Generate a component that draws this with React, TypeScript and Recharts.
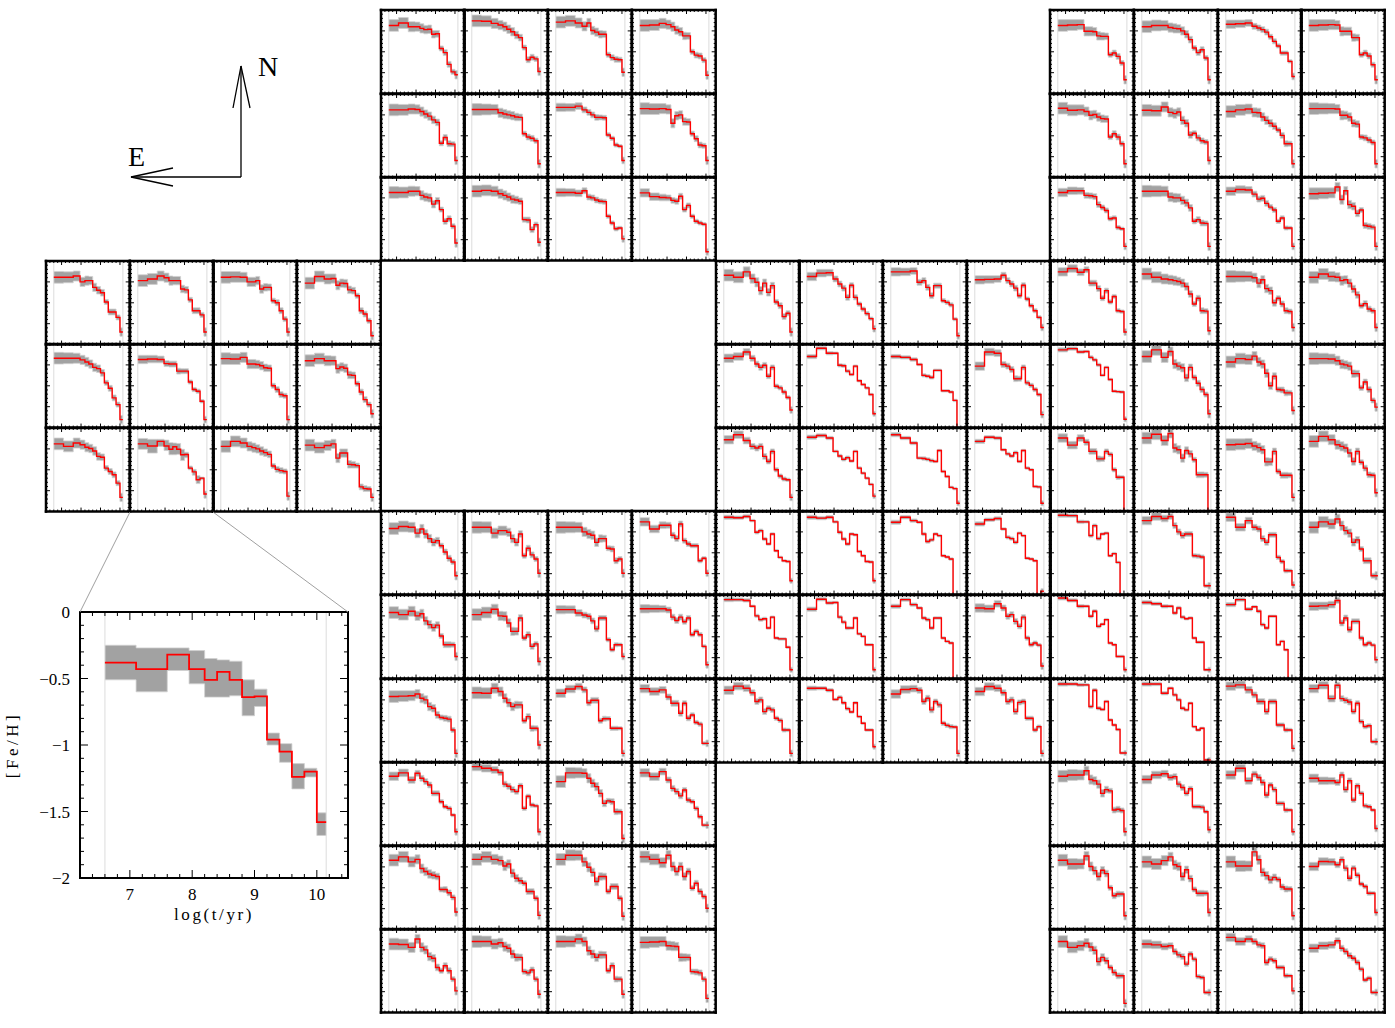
import React from "react";
import { Area, ComposedChart, Line, ReferenceLine, XAxis, YAxis } from "recharts";

// log(t/yr) bin edges shared by every panel
const AGE_EDGES = [6.6, 7.1, 7.6, 7.95, 8.2, 8.4, 8.6, 8.8, 9.0, 9.2, 9.4, 9.6, 9.8, 10.0, 10.15];

const X_TICKS = [6.4, 6.6, 6.8, 7, 7.2, 7.4, 7.6, 7.8, 8, 8.2, 8.4, 8.6, 8.8, 9, 9.2, 9.4, 9.6, 9.8, 10, 10.2, 10.4];
const Y_TICKS = [-1.9, -1.8, -1.7, -1.6, -1.5, -1.4, -1.3, -1.2, -1.1, -1, -0.9, -0.8, -0.7, -0.6, -0.5, -0.4, -0.3, -0.2, -0.1];
const X_TICK_LABELS = [7, 8, 9, 10];
const Y_TICK_LABELS = [0, -0.5, -1, -1.5, -2];

// the enlarged panel (left block, bottom row, second column)
const INSET_FE = [-0.38, -0.43, -0.32, -0.43, -0.51, -0.45, -0.51, -0.64, -0.635, -0.96, -1.05, -1.24, -1.2, -1.58];
const INSET_LO = [-0.51, -0.6, -0.44, -0.54, -0.64, -0.64, -0.63, -0.78, -0.71, -1.0, -1.13, -1.33, -1.24, -1.68];
const INSET_HI = [-0.25, -0.27, -0.27, -0.29, -0.35, -0.36, -0.37, -0.51, -0.58, -0.91, -0.99, -1.14, -1.175, -1.51];

// half widths of the grey bands, per bin
const ERR_WIDE = [0.14, 0.13, 0.12, 0.11, 0.11, 0.1, 0.1, 0.09, 0.08, 0.06, 0.07, 0.07, 0.06, 0.1];
const ERR_MID = [0.1, 0.09, 0.08, 0.07, 0.07, 0.07, 0.07, 0.06, 0.06, 0.05, 0.05, 0.05, 0.04, 0.08];
const ERR_THIN = [0.05, 0.04, 0.04, 0.03, 0.04, 0.04, 0.04, 0.03, 0.03, 0.03, 0.03, 0.03, 0.03, 0.06];

// [Fe/H] per bin, block by block, row by row
const FE_PROFILES = [
  // top middle
  [-0.37, -0.31, -0.4, -0.4, -0.44, -0.47, -0.46, -0.58, -0.57, -0.92, -1.02, -1.3, -1.48, -1.55],
  [-0.26, -0.27, -0.32, -0.36, -0.4, -0.46, -0.52, -0.6, -0.66, -0.9, -1.19, -1.13, -1.17, -1.47],
  [-0.29, -0.26, -0.31, -0.39, -0.31, -0.49, -0.53, -0.58, -0.58, -1.07, -1.14, -1.18, -1.19, -1.49],
  [-0.37, -0.36, -0.32, -0.35, -0.4, -0.48, -0.52, -0.62, -0.62, -1.0, -1.08, -1.1, -1.2, -1.56],
  [-0.38, -0.38, -0.36, -0.37, -0.42, -0.48, -0.53, -0.62, -0.68, -1.18, -1.04, -1.19, -1.2, -1.59],
  [-0.37, -0.37, -0.37, -0.45, -0.48, -0.5, -0.52, -0.55, -0.56, -0.95, -1.03, -1.06, -1.12, -1.67],
  [-0.32, -0.32, -0.29, -0.38, -0.44, -0.5, -0.56, -0.56, -0.57, -0.98, -1.06, -1.22, -1.25, -1.59],
  [-0.35, -0.36, -0.35, -0.37, -0.7, -0.52, -0.5, -0.66, -0.67, -0.95, -1.07, -1.22, -1.24, -1.59],
  [-0.37, -0.37, -0.34, -0.34, -0.44, -0.48, -0.5, -0.65, -0.57, -0.78, -1.06, -1.0, -1.18, -1.58],
  [-0.34, -0.32, -0.34, -0.4, -0.44, -0.48, -0.53, -0.55, -0.58, -1.02, -1.03, -1.26, -1.14, -1.56],
  [-0.37, -0.37, -0.39, -0.33, -0.48, -0.5, -0.55, -0.58, -0.59, -0.94, -1.1, -1.24, -1.22, -1.48],
  [-0.38, -0.47, -0.49, -0.5, -0.56, -0.58, -0.46, -0.78, -0.68, -0.94, -1.06, -1.1, -1.13, -1.79],
  // top right
  [-0.37, -0.36, -0.35, -0.51, -0.51, -0.52, -0.62, -0.63, -0.63, -1.07, -1.03, -1.11, -1.27, -1.67],
  [-0.4, -0.37, -0.37, -0.42, -0.44, -0.45, -0.5, -0.58, -0.71, -0.91, -1.02, -0.95, -1.15, -1.67],
  [-0.34, -0.33, -0.31, -0.39, -0.43, -0.47, -0.53, -0.64, -0.75, -0.86, -1.03, -1.03, -1.23, -1.59],
  [-0.37, -0.36, -0.35, -0.36, -0.51, -0.51, -0.51, -0.66, -0.66, -1.07, -1.03, -1.1, -1.31, -1.67],
  [-0.34, -0.39, -0.38, -0.42, -0.51, -0.49, -0.55, -0.59, -0.6, -1.03, -0.95, -1.03, -1.19, -1.67],
  [-0.39, -0.4, -0.31, -0.44, -0.47, -0.43, -0.63, -0.7, -0.98, -0.94, -1.05, -1.12, -1.15, -1.59],
  [-0.42, -0.38, -0.36, -0.44, -0.45, -0.55, -0.63, -0.7, -0.77, -0.86, -0.99, -1.19, -1.19, -1.67],
  [-0.35, -0.35, -0.35, -0.36, -0.51, -0.51, -0.55, -0.7, -0.72, -1.03, -1.05, -1.1, -1.16, -1.67],
  [-0.37, -0.33, -0.33, -0.44, -0.45, -0.47, -0.66, -0.73, -0.8, -1.0, -0.98, -1.21, -1.24, -1.66],
  [-0.34, -0.34, -0.34, -0.48, -0.5, -0.5, -0.56, -0.62, -0.74, -1.06, -1.02, -1.1, -1.11, -1.66],
  [-0.34, -0.3, -0.31, -0.41, -0.53, -0.51, -0.63, -0.72, -0.79, -1.06, -0.98, -1.22, -1.22, -1.66],
  [-0.4, -0.39, -0.38, -0.24, -0.54, -0.33, -0.66, -0.7, -0.87, -0.79, -1.16, -1.18, -1.2, -1.66],
  // left
  [-0.39, -0.39, -0.36, -0.5, -0.47, -0.47, -0.63, -0.7, -0.76, -0.98, -1.22, -1.22, -1.35, -1.7],
  [-0.47, -0.43, -0.36, -0.4, -0.47, -0.47, -0.47, -0.67, -0.69, -0.93, -1.19, -1.19, -1.29, -1.7],
  [-0.39, -0.38, -0.39, -0.5, -0.5, -0.47, -0.67, -0.63, -0.63, -0.95, -1.0, -1.19, -1.39, -1.7],
  [-0.53, -0.37, -0.43, -0.42, -0.58, -0.53, -0.54, -0.69, -0.71, -0.83, -1.19, -1.27, -1.43, -1.79],
  [-0.34, -0.34, -0.34, -0.38, -0.43, -0.48, -0.56, -0.59, -0.69, -0.93, -1.06, -1.29, -1.45, -1.81],
  [-0.37, -0.36, -0.37, -0.47, -0.48, -0.48, -0.65, -0.65, -0.65, -0.91, -1.09, -1.13, -1.37, -1.81],
  [-0.35, -0.36, -0.32, -0.48, -0.48, -0.49, -0.52, -0.57, -0.58, -1.0, -1.09, -1.21, -1.24, -1.81],
  [-0.4, -0.35, -0.4, -0.4, -0.59, -0.55, -0.58, -0.74, -0.75, -0.95, -1.15, -1.33, -1.45, -1.67],
  [-0.38, -0.44, -0.36, -0.4, -0.46, -0.49, -0.55, -0.68, -0.7, -0.96, -1.04, -1.12, -1.32, -1.66],
  INSET_FE,
  [-0.44, -0.32, -0.36, -0.44, -0.47, -0.5, -0.55, -0.59, -0.63, -0.91, -0.99, -1.02, -1.04, -1.63],
  [-0.41, -0.47, -0.42, -0.38, -0.72, -0.6, -0.6, -0.87, -0.88, -0.9, -1.41, -1.45, -1.46, -1.66],
  // middle right, first block
  [-0.34, -0.39, -0.26, -0.42, -0.51, -0.71, -0.53, -0.75, -0.59, -0.98, -1.07, -1.33, -1.25, -1.7],
  [-0.37, -0.29, -0.28, -0.43, -0.55, -0.65, -0.87, -0.58, -0.87, -1.03, -1.15, -1.26, -1.38, -1.62],
  [-0.26, -0.26, -0.24, -0.51, -0.47, -0.63, -0.83, -0.59, -0.59, -0.95, -0.99, -1.05, -1.39, -1.79],
  [-0.45, -0.44, -0.43, -0.34, -0.47, -0.55, -0.65, -0.83, -0.58, -0.91, -1.07, -1.19, -1.35, -1.59],
  [-0.34, -0.3, -0.19, -0.34, -0.48, -0.56, -0.51, -0.77, -0.56, -1.01, -1.05, -1.15, -1.28, -1.58],
  [-0.3, -0.1, -0.22, -0.22, -0.51, -0.52, -0.65, -0.73, -0.53, -0.88, -0.97, -1.05, -1.21, -1.67],
  [-0.3, -0.32, -0.37, -0.49, -0.75, -0.77, -0.8, -0.63, -0.63, -1.12, -1.12, -1.15, -1.35, -2.05],
  [-0.53, -0.19, -0.22, -0.49, -0.53, -0.61, -0.83, -0.83, -0.56, -0.93, -0.99, -1.09, -1.21, -1.69],
  [-0.28, -0.16, -0.3, -0.44, -0.48, -0.44, -0.68, -0.8, -0.56, -1.0, -1.15, -1.22, -1.24, -1.66],
  [-0.22, -0.18, -0.24, -0.56, -0.67, -0.75, -0.71, -0.79, -0.56, -0.96, -1.08, -1.2, -1.35, -1.63],
  [-0.16, -0.24, -0.36, -0.72, -0.73, -0.75, -0.78, -0.8, -0.54, -1.04, -1.16, -1.42, -1.45, -1.8],
  [-0.32, -0.22, -0.24, -0.52, -0.62, -0.67, -0.59, -0.8, -0.54, -0.96, -1.0, -1.4, -1.41, -1.8],
  // middle right, second block
  [-0.26, -0.18, -0.27, -0.21, -0.53, -0.53, -0.66, -0.89, -0.71, -0.98, -0.85, -1.19, -1.21, -1.7],
  [-0.31, -0.39, -0.43, -0.45, -0.47, -0.49, -0.53, -0.61, -0.79, -1.03, -0.89, -1.19, -1.2, -1.67],
  [-0.37, -0.37, -0.37, -0.4, -0.53, -0.45, -0.66, -0.71, -1.0, -0.89, -1.03, -1.19, -1.21, -1.59],
  [-0.39, -0.31, -0.37, -0.39, -0.47, -0.45, -0.53, -0.67, -0.81, -1.07, -1.02, -1.15, -1.19, -1.59],
  [-0.14, -0.11, -0.19, -0.18, -0.32, -0.38, -0.5, -0.75, -0.56, -0.85, -1.13, -1.14, -1.15, -1.8],
  [-0.3, -0.14, -0.32, -0.18, -0.48, -0.53, -0.57, -0.81, -0.56, -0.8, -0.94, -1.09, -1.21, -1.67],
  [-0.43, -0.35, -0.37, -0.29, -0.43, -0.48, -0.7, -1.0, -0.77, -1.09, -1.1, -1.17, -1.17, -1.59],
  [-0.35, -0.35, -0.36, -0.4, -0.48, -0.5, -0.53, -0.71, -0.71, -1.05, -0.91, -1.09, -1.35, -1.51],
  [-0.24, -0.41, -0.24, -0.34, -0.56, -0.56, -0.74, -0.74, -0.56, -0.63, -1.0, -1.18, -1.18, -2.05],
  [-0.24, -0.15, -0.3, -0.13, -0.48, -0.52, -0.72, -0.54, -0.62, -0.76, -1.12, -1.12, -1.12, -2.05],
  [-0.4, -0.39, -0.37, -0.43, -0.47, -0.52, -0.81, -0.81, -0.56, -1.04, -1.13, -1.13, -1.13, -1.66],
  [-0.32, -0.2, -0.28, -0.4, -0.44, -0.48, -0.6, -0.8, -0.56, -0.82, -0.96, -1.12, -1.13, -1.55],
  // lower middle, first block
  [-0.42, -0.37, -0.39, -0.53, -0.43, -0.55, -0.66, -0.75, -0.71, -0.83, -0.98, -1.13, -1.22, -1.55],
  [-0.39, -0.39, -0.53, -0.47, -0.47, -0.51, -0.66, -0.75, -0.55, -1.07, -0.89, -1.05, -1.15, -1.49],
  [-0.39, -0.39, -0.39, -0.5, -0.55, -0.58, -0.75, -0.66, -0.66, -0.89, -0.91, -1.19, -1.15, -1.49],
  [-0.26, -0.43, -0.34, -0.34, -0.58, -0.66, -0.31, -0.71, -0.79, -0.83, -0.83, -1.19, -1.13, -1.49],
  [-0.42, -0.47, -0.39, -0.5, -0.45, -0.62, -0.71, -0.78, -0.72, -0.98, -1.19, -1.19, -1.19, -1.47],
  [-0.47, -0.42, -0.34, -0.5, -0.51, -0.67, -0.87, -0.87, -0.55, -1.03, -0.95, -1.23, -1.17, -1.59],
  [-0.35, -0.35, -0.43, -0.48, -0.51, -0.62, -0.81, -0.55, -0.55, -1.07, -1.31, -1.19, -1.19, -1.47],
  [-0.33, -0.33, -0.33, -0.36, -0.53, -0.61, -0.53, -0.64, -0.55, -0.95, -0.87, -0.95, -1.23, -1.67],
  [-0.42, -0.41, -0.4, -0.36, -0.46, -0.5, -0.66, -0.7, -0.86, -0.92, -0.94, -0.96, -1.22, -1.78],
  [-0.33, -0.34, -0.22, -0.3, -0.46, -0.57, -0.66, -0.62, -0.62, -1.0, -0.9, -1.18, -1.18, -1.58],
  [-0.34, -0.24, -0.18, -0.26, -0.57, -0.51, -0.51, -1.0, -0.95, -0.95, -1.18, -1.18, -1.18, -1.78],
  [-0.23, -0.3, -0.26, -0.43, -0.58, -0.58, -0.82, -0.58, -0.94, -0.86, -1.04, -1.08, -1.54, -1.54],
  // lower middle, second block
  [-0.15, -0.16, -0.13, -0.23, -0.51, -0.47, -0.67, -0.79, -0.55, -0.95, -1.11, -1.19, -1.21, -1.67],
  [-0.15, -0.17, -0.15, -0.26, -0.51, -0.67, -0.79, -0.55, -0.57, -0.97, -1.07, -1.21, -1.22, -1.67],
  [-0.27, -0.15, -0.23, -0.27, -0.55, -0.73, -0.69, -0.55, -0.59, -1.07, -1.1, -1.15, -2.05, -2.05],
  [-0.31, -0.21, -0.18, -0.43, -0.63, -0.66, -0.75, -0.53, -0.59, -1.13, -1.15, -1.19, -2.05, -1.92],
  [-0.11, -0.11, -0.13, -0.27, -0.5, -0.59, -0.57, -0.79, -0.53, -1.03, -1.05, -1.05, -1.25, -1.79],
  [-0.34, -0.1, -0.19, -0.18, -0.53, -0.65, -0.79, -0.79, -0.55, -0.93, -0.99, -1.19, -1.19, -1.79],
  [-0.27, -0.11, -0.23, -0.31, -0.55, -0.59, -0.79, -0.55, -0.55, -1.03, -1.11, -1.15, -2.05, -2.05],
  [-0.31, -0.33, -0.21, -0.31, -0.51, -0.47, -0.63, -0.75, -0.53, -1.03, -1.19, -1.15, -1.2, -1.7],
  [-0.27, -0.17, -0.22, -0.33, -0.54, -0.5, -0.78, -0.7, -0.74, -0.94, -0.99, -1.22, -1.22, -1.78],
  [-0.22, -0.22, -0.27, -0.49, -0.44, -0.57, -0.71, -0.79, -0.57, -0.9, -1.06, -1.22, -1.22, -1.62],
  [-0.36, -0.25, -0.23, -0.27, -0.54, -0.46, -0.74, -0.54, -0.62, -1.06, -1.11, -1.14, -1.15, -1.78],
  [-0.3, -0.18, -0.22, -0.33, -0.54, -0.5, -0.78, -0.56, -0.54, -0.94, -0.94, -1.22, -1.14, -1.78],
  // lower right, first block
  [-0.1, -0.11, -0.26, -0.26, -0.59, -0.35, -0.66, -0.55, -0.53, -1.07, -1.02, -1.23, -2.05, -2.05],
  [-0.23, -0.13, -0.18, -0.13, -0.35, -0.5, -0.59, -0.55, -0.55, -1.07, -1.08, -1.1, -1.79, -1.79],
  [-0.15, -0.39, -0.23, -0.39, -0.43, -0.66, -0.75, -0.57, -0.57, -1.11, -1.21, -1.43, -1.43, -1.77],
  [-0.39, -0.26, -0.31, -0.19, -0.35, -0.47, -0.53, -0.75, -0.69, -0.91, -1.19, -1.19, -1.55, -1.55],
  [-0.07, -0.13, -0.27, -0.27, -0.51, -0.39, -0.75, -0.7, -0.59, -1.15, -1.19, -1.47, -1.47, -1.79],
  [-0.18, -0.21, -0.27, -0.27, -0.43, -0.31, -0.53, -0.57, -0.55, -1.03, -1.13, -1.13, -1.79, -1.79],
  [-0.23, -0.11, -0.34, -0.28, -0.39, -0.71, -0.79, -0.51, -0.51, -1.19, -1.11, -1.31, -2.05, -2.05],
  [-0.27, -0.26, -0.23, -0.13, -0.67, -0.55, -0.83, -0.63, -0.63, -1.03, -1.19, -1.15, -1.2, -1.55],
  [-0.12, -0.12, -0.14, -0.14, -0.66, -0.27, -0.7, -0.73, -0.54, -0.98, -1.1, -1.21, -1.77, -1.77],
  [-0.12, -0.12, -0.34, -0.22, -0.38, -0.5, -0.7, -0.74, -0.58, -1.14, -1.22, -1.18, -1.94, -1.94],
  [-0.17, -0.14, -0.26, -0.38, -0.54, -0.54, -0.78, -0.54, -0.54, -1.1, -1.1, -1.22, -1.22, -1.66],
  [-0.23, -0.15, -0.47, -0.15, -0.47, -0.51, -0.55, -0.78, -0.58, -1.02, -1.14, -1.12, -1.5, -1.5],
  // bottom middle
  [-0.34, -0.26, -0.43, -0.27, -0.39, -0.47, -0.55, -0.75, -0.75, -0.95, -1.07, -1.11, -1.27, -1.67],
  [-0.11, -0.15, -0.19, -0.25, -0.53, -0.58, -0.66, -0.71, -0.57, -1.11, -0.82, -1.03, -1.05, -1.67],
  [-0.47, -0.26, -0.26, -0.27, -0.39, -0.51, -0.59, -0.75, -0.99, -0.93, -0.95, -1.19, -1.19, -1.83],
  [-0.26, -0.35, -0.23, -0.43, -0.63, -0.71, -0.81, -0.67, -0.91, -0.95, -1.11, -1.31, -1.51, -1.51],
  [-0.34, -0.26, -0.38, -0.32, -0.54, -0.61, -0.67, -0.7, -0.73, -1.04, -1.04, -1.12, -1.23, -1.58],
  [-0.32, -0.26, -0.32, -0.35, -0.48, -0.43, -0.65, -0.77, -0.83, -0.89, -1.09, -1.09, -1.25, -1.66],
  [-0.32, -0.22, -0.22, -0.38, -0.51, -0.63, -0.85, -0.73, -0.73, -1.09, -0.97, -0.97, -1.25, -1.68],
  [-0.26, -0.32, -0.4, -0.22, -0.49, -0.61, -0.49, -0.73, -0.61, -1.01, -0.89, -1.09, -1.21, -1.49],
  [-0.36, -0.37, -0.44, -0.24, -0.44, -0.5, -0.66, -0.7, -0.92, -1.0, -0.88, -1.0, -1.2, -1.48],
  [-0.3, -0.3, -0.36, -0.33, -0.42, -0.46, -0.6, -0.68, -0.68, -1.02, -1.05, -0.98, -1.2, -1.56],
  [-0.3, -0.3, -0.24, -0.3, -0.52, -0.6, -0.68, -0.62, -0.62, -1.0, -0.88, -1.2, -1.2, -1.56],
  [-0.32, -0.31, -0.3, -0.4, -0.41, -0.42, -0.68, -0.68, -0.68, -1.02, -1.03, -1.05, -1.2, -1.66],
  // bottom right
  [-0.34, -0.31, -0.31, -0.21, -0.42, -0.45, -0.53, -0.75, -0.66, -0.69, -1.15, -1.13, -1.16, -1.67],
  [-0.42, -0.31, -0.28, -0.37, -0.35, -0.53, -0.61, -0.75, -0.64, -1.07, -1.07, -1.08, -1.19, -1.62],
  [-0.31, -0.15, -0.45, -0.29, -0.37, -0.49, -0.79, -0.55, -0.66, -0.99, -0.99, -1.15, -1.15, -1.67],
  [-0.39, -0.45, -0.45, -0.49, -0.31, -0.66, -0.45, -0.91, -0.57, -0.75, -1.05, -1.07, -1.15, -1.59],
  [-0.34, -0.43, -0.43, -0.24, -0.49, -0.59, -0.73, -0.58, -0.66, -1.0, -1.19, -1.15, -1.15, -1.67],
  [-0.38, -0.43, -0.35, -0.26, -0.45, -0.49, -0.73, -0.57, -0.78, -1.04, -1.13, -1.13, -1.13, -1.59],
  [-0.38, -0.48, -0.48, -0.14, -0.33, -0.63, -0.71, -0.81, -0.75, -0.8, -0.98, -1.03, -1.03, -1.67],
  [-0.49, -0.37, -0.38, -0.45, -0.33, -0.53, -0.77, -0.53, -0.7, -0.91, -0.97, -1.13, -1.13, -1.59],
  [-0.3, -0.44, -0.4, -0.34, -0.43, -0.51, -0.78, -0.68, -0.76, -0.92, -1.04, -1.12, -1.12, -1.78],
  [-0.36, -0.38, -0.42, -0.4, -0.54, -0.62, -0.66, -0.84, -0.6, -0.72, -1.14, -1.16, -1.52, -1.52],
  [-0.2, -0.3, -0.24, -0.3, -0.38, -0.4, -0.8, -0.72, -0.76, -0.92, -0.92, -1.12, -1.12, -1.48],
  [-0.46, -0.4, -0.38, -0.28, -0.46, -0.54, -0.64, -0.7, -0.8, -0.96, -1.22, -1.18, -1.52, -1.52],
];

// band width class of each panel: w wide, m mid, t thin, i inset
const ERR_CLASS =
  "wwwwwwmwwwmm" +
  "wwmwwwwwmwmw" +
  "wwwwwmwwwiww" +
  "wmmmmttmmttt" +
  "mwwwtwwwmwww" +
  "wwwmwwmmwwmm" +
  "tttttttmmtmm" +
  "tmmwtttmttmm" +
  "mmwmwwwwwwww" +
  "wmmmwwwmwmmm";

// mosaic layout: each block is 4 panels across, 3 down
const GRID_X0 = 46;
const GRID_Y0 = 10;
const CELL_W = 83.69;
const CELL_H = 83.58;
const BLOCKS = [
  { c: 4, r: 0 },
  { c: 12, r: 0 },
  { c: 0, r: 3 },
  { c: 8, r: 3 },
  { c: 12, r: 3 },
  { c: 4, r: 6 },
  { c: 8, r: 6 },
  { c: 12, r: 6 },
  { c: 4, r: 9 },
  { c: 12, r: 9 },
];

const SERIF = "'Liberation Serif', 'Times New Roman', serif";

function fmt(v: number) {
  if (v === 0) return "0";
  return (v < 0 ? "\u2212" : "") + String(Math.abs(v));
}

type Side = "bottom" | "top" | "left" | "right";

function tickRenderer(side: Side, major: number, minor: number, labels: number[] | null) {
  return (p: any) => {
    const v = p.payload.value as number;
    const horiz = side === "bottom" || side === "top";
    const isMajor = horiz
      ? Math.abs(v - Math.round(v)) < 1e-6
      : Math.abs(v * 2 - Math.round(v * 2)) < 1e-6;
    const len = isMajor ? major : minor;
    const x = p.x;
    const y = p.y;
    let x2 = x;
    let y2 = y;
    if (side === "bottom") y2 = y - len;
    if (side === "top") y2 = y + len;
    if (side === "left") x2 = x + len;
    if (side === "right") x2 = x - len;
    const show = labels !== null && labels.includes(v);
    return (
      <g>
        <line x1={x} y1={y} x2={x2} y2={y2} stroke="#000" strokeWidth={1} />
        {show && side === "bottom" && (
          <text x={x} y={y + 22} textAnchor="middle" fontSize={17} fontFamily={SERIF} fill="#000">
            {fmt(v)}
          </text>
        )}
        {show && side === "left" && (
          <text x={x - 10} y={y + 6} textAnchor="end" fontSize={17} fontFamily={SERIF} fill="#000">
            {fmt(v)}
          </text>
        )}
      </g>
    );
  };
}

type PanelProps = {
  fe: number[];
  lo: number[];
  hi: number[];
  width: number;
  height: number;
  margin: { top: number; right: number; bottom: number; left: number };
  frame: number;
  major: number;
  minor: number;
  lineWidth: number;
  withLabels?: boolean;
};

// each axis takes 1px so that recharts still draws it; margins are trimmed by that pixel
function Panel({ fe, lo, hi, width, height, margin, frame, major, minor, lineWidth, withLabels }: PanelProps) {
  const data = AGE_EDGES.map((x, i) => {
    const k = Math.min(i, fe.length - 1);
    return { x, fe: fe[k], band: [lo[k], hi[k]] };
  });
  const axisLine = { stroke: "#000", strokeWidth: frame, strokeLinecap: "square" };
  const yLeftTicks = withLabels ? [0, ...Y_TICKS, -2] : Y_TICKS;
  const m = {
    top: margin.top - 1,
    right: margin.right - 1,
    bottom: margin.bottom - 1,
    left: margin.left - 1,
  };

  return (
    <ComposedChart width={width} height={height} margin={m} data={data}>
      <ReferenceLine xAxisId="b" yAxisId="l" x={AGE_EDGES[0]} stroke="#dcdcdc" strokeWidth={1} />
      <ReferenceLine
        xAxisId="b"
        yAxisId="l"
        x={AGE_EDGES[AGE_EDGES.length - 1]}
        stroke="#dcdcdc"
        strokeWidth={1}
      />
      <Area
        xAxisId="b"
        yAxisId="l"
        dataKey="band"
        type="stepAfter"
        fill="#a2a2a2"
        fillOpacity={1}
        stroke="#d0d0d0"
        strokeWidth={0.8}
        dot={false}
        activeDot={false}
        isAnimationActive={false}
      />
      <Line
        xAxisId="b"
        yAxisId="l"
        dataKey="fe"
        type="stepAfter"
        stroke="#ff0000"
        strokeWidth={lineWidth}
        dot={false}
        activeDot={false}
        isAnimationActive={false}
      />
      <XAxis
        xAxisId="b"
        type="number"
        dataKey="x"
        domain={[6.2, 10.5]}
        allowDataOverflow
        ticks={X_TICKS}
        interval={0}
        height={1}
        tickSize={0}
        tickMargin={0}
        tickLine={false}
        axisLine={axisLine}
        tick={tickRenderer("bottom", major, minor, withLabels ? X_TICK_LABELS : null)}
        label={
          withLabels
            ? {
                value: "log(t/yr)",
                position: "bottom",
                offset: 29,
                fontSize: 17,
                fontFamily: SERIF,
                letterSpacing: 2.6,
                fill: "#000",
              }
            : undefined
        }
      />
      <XAxis
        xAxisId="t"
        orientation="top"
        type="number"
        dataKey="x"
        domain={[6.2, 10.5]}
        allowDataOverflow
        ticks={X_TICKS}
        interval={0}
        height={1}
        tickSize={0}
        tickMargin={0}
        tickLine={false}
        axisLine={axisLine}
        tick={tickRenderer("top", major, minor, null)}
      />
      <YAxis
        yAxisId="l"
        type="number"
        domain={[-2, 0]}
        allowDataOverflow
        ticks={yLeftTicks}
        interval={0}
        width={1}
        tickSize={0}
        tickMargin={0}
        tickLine={false}
        axisLine={axisLine}
        tick={tickRenderer("left", major, minor, withLabels ? Y_TICK_LABELS : null)}
        label={
          withLabels
            ? {
                position: "left",
                content: (lp: any) => {
                  const vb =
                    lp && lp.viewBox
                      ? lp.viewBox
                      : { x: margin.left - 1, y: margin.top, width: 1, height: height - margin.top - margin.bottom };
                  const cx = vb.x - 67;
                  const cy = vb.y + vb.height / 2;
                  return (
                    <text
                      x={cx}
                      y={cy}
                      transform={`rotate(-90 ${cx} ${cy})`}
                      textAnchor="middle"
                      dominantBaseline="central"
                      fontSize={17}
                      fontFamily={SERIF}
                      letterSpacing={3.5}
                      fill="#000"
                    >
                      [Fe/H]
                    </text>
                  );
                },
              }
            : undefined
        }
      />
      <YAxis
        yAxisId="r"
        orientation="right"
        type="number"
        domain={[-2, 0]}
        allowDataOverflow
        ticks={Y_TICKS}
        interval={0}
        width={1}
        tickSize={0}
        tickMargin={0}
        tickLine={false}
        axisLine={axisLine}
        tick={tickRenderer("right", major, minor, null)}
      />
    </ComposedChart>
  );
}

function errFor(cls: string) {
  if (cls === "w") return ERR_WIDE;
  if (cls === "t") return ERR_THIN;
  return ERR_MID;
}

export default function App() {
  const pad = 3;
  return (
    <div
      style={{
        position: "absolute",
        left: 0,
        top: 0,
        width: 1395,
        height: 1028,
        background: "#fff",
        overflow: "hidden",
      }}
    >
      {FE_PROFILES.map((fe, i) => {
        const b = BLOCKS[Math.floor(i / 12)];
        const w = i % 12;
        const col = b.c + (w % 4);
        const row = b.r + Math.floor(w / 4);
        const cls = ERR_CLASS[i];
        let lo: number[];
        let hi: number[];
        if (cls === "i") {
          lo = INSET_LO;
          hi = INSET_HI;
        } else {
          const e = errFor(cls);
          lo = fe.map((v, k) => v - e[k]);
          hi = fe.map((v, k) => v + e[k]);
        }
        return (
          <div
            key={i}
            style={{
              position: "absolute",
              left: GRID_X0 + col * CELL_W - pad,
              top: GRID_Y0 + row * CELL_H - pad,
            }}
          >
            <Panel
              fe={fe}
              lo={lo}
              hi={hi}
              width={CELL_W + 2 * pad}
              height={CELL_H + 2 * pad}
              margin={{ top: pad, right: pad, bottom: pad, left: pad }}
              frame={2.5}
              major={4}
              minor={2}
              lineWidth={1.4}
            />
          </div>
        );
      })}

      <div style={{ position: "absolute", left: 0, top: 590 }}>
        <Panel
          fe={INSET_FE}
          lo={INSET_LO}
          hi={INSET_HI}
          width={360}
          height={340}
          margin={{ top: 22, right: 12, bottom: 52, left: 80 }}
          frame={2}
          major={8}
          minor={4}
          lineWidth={1.8}
          withLabels
        />
      </div>

      <svg
        width={1395}
        height={1028}
        style={{ position: "absolute", left: 0, top: 0, pointerEvents: "none" }}
      >
        <line x1={80} y1={612} x2={130} y2={512} stroke="#a0a0a0" strokeWidth={1} />
        <line x1={348} y1={612} x2={213} y2={512} stroke="#a0a0a0" strokeWidth={1} />
        <line x1={241} y1={177} x2={241} y2={66} stroke="#000" strokeWidth={1.3} />
        <polyline points="233,108 241,66 250,108" fill="none" stroke="#000" strokeWidth={1.3} />
        <line x1={241} y1={177} x2={131} y2={177} stroke="#000" strokeWidth={1.3} />
        <polyline points="173,168 131,177 173,186" fill="none" stroke="#000" strokeWidth={1.3} />
        <text x={258} y={76} fontSize={28} fontFamily={SERIF} fill="#000">
          N
        </text>
        <text x={128} y={166} fontSize={28} fontFamily={SERIF} fill="#000">
          E
        </text>
      </svg>
    </div>
  );
}
